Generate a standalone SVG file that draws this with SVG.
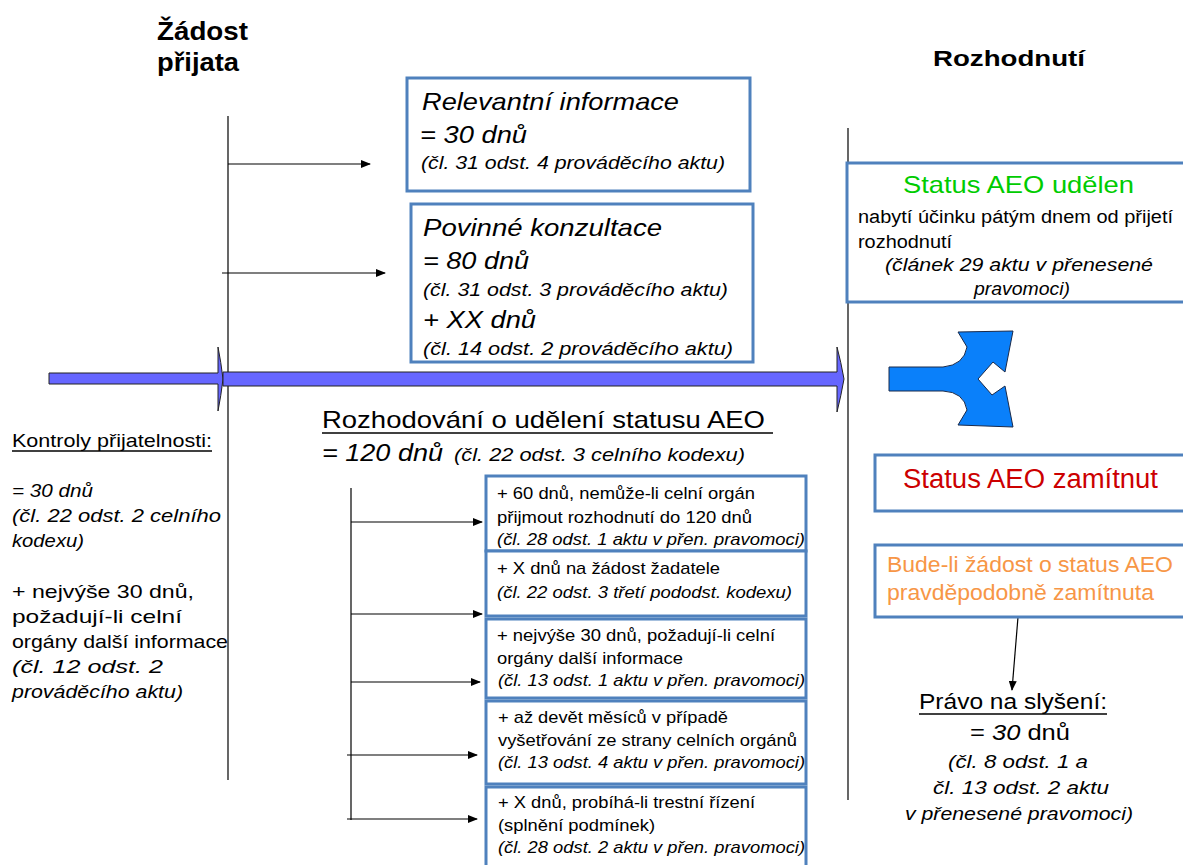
<svg xmlns="http://www.w3.org/2000/svg" width="1183" height="865" viewBox="0 0 1183 865">
<style>
text{font-family:"Liberation Sans",Arial,sans-serif;fill:#000}
.b{font-weight:bold}
.i{font-style:italic}
.box{fill:#fff;stroke:#4F81BD;stroke-width:3}
.ln{stroke:#000;stroke-width:1.2;fill:none}
.ul{stroke:#000;stroke-width:1.3}
</style>
<defs>
<marker id="ah" markerWidth="10" markerHeight="8" refX="9" refY="4" orient="auto" markerUnits="userSpaceOnUse">
<path d="M0,0 L10,4 L0,8 Z" fill="#000"/>
</marker>
</defs>
<rect width="1183" height="865" fill="#fff"/>

<g id="headings">
<text class="b" x="157" y="40" font-size="25" textLength="91" lengthAdjust="spacingAndGlyphs">Žádost</text>
<text class="b" x="157" y="71" font-size="25" textLength="82" lengthAdjust="spacingAndGlyphs">přijata</text>
<text class="b" x="933" y="66" font-size="22" textLength="152" lengthAdjust="spacingAndGlyphs">Rozhodnutí</text>
</g>

<g id="connectors">
<line class="ln" x1="228" y1="116" x2="228" y2="780"/>
<line class="ln" x1="848" y1="128" x2="848" y2="800"/>
<line class="ln" x1="228" y1="164" x2="370" y2="164" marker-end="url(#ah)"/>
<line class="ln" x1="222" y1="273" x2="385" y2="273" marker-end="url(#ah)"/>
<line class="ln" x1="351" y1="488" x2="351" y2="820" stroke="#333"/>
<line class="ln" x1="351" y1="522" x2="482" y2="522" marker-end="url(#ah)"/>
<line class="ln" x1="351" y1="614" x2="482" y2="614" marker-end="url(#ah)"/>
<line class="ln" x1="351" y1="682" x2="480" y2="682" marker-end="url(#ah)"/>
<line class="ln" x1="347" y1="755" x2="477" y2="755" marker-end="url(#ah)"/>
<line class="ln" x1="347" y1="819" x2="477" y2="819" marker-end="url(#ah)"/>
<line class="ln" x1="1018" y1="617" x2="1012" y2="690" marker-end="url(#ah)"/>
</g>

<g id="timeline">
<path d="M49,373 L218,373 L218,347 Q221,362 223,379 Q221,396 218,411 L218,384 L49,384 Z" fill="#6666FF" stroke="#222" stroke-width="1"/>
<path d="M223,372 L837,372 L837,347 Q841,362 844,379 Q841,396 837,412 L837,386 L223,386 Z" fill="#6666FF" stroke="#222" stroke-width="1"/>
</g>

<g id="fork">
<path d="M889,367 L943,367 Q964,365 967,347 L958,332 L1013,331 L1005,372 L993,362 L978,379 L992,395 L1005,386 L1013,427 L958,425 L967,410 Q964,392 943,391 L889,391 Z" fill="#0A80FA" stroke="#1a2a4a" stroke-width="1"/>
</g>

<g id="node-relevantni">
<rect class="box" x="407" y="78" width="343" height="113"/>
<text class="i" x="422" y="110" font-size="24" textLength="257" lengthAdjust="spacingAndGlyphs">Relevantní informace</text>
<text class="i" x="420" y="143" font-size="24" textLength="107" lengthAdjust="spacingAndGlyphs">= 30 dnů</text>
<text class="i" x="421" y="169" font-size="18" textLength="304" lengthAdjust="spacingAndGlyphs">(čl. 31 odst. 4 prováděcího aktu)</text>
</g>

<g id="node-konzultace">
<rect class="box" x="411" y="204" width="342" height="158"/>
<text class="i" x="423" y="236" font-size="24" textLength="239" lengthAdjust="spacingAndGlyphs">Povinné konzultace</text>
<text class="i" x="423" y="269" font-size="24" textLength="106" lengthAdjust="spacingAndGlyphs">= 80 dnů</text>
<text class="i" x="423" y="296" font-size="18" textLength="305" lengthAdjust="spacingAndGlyphs">(čl. 31 odst. 3 prováděcího aktu)</text>
<text class="i" x="423" y="328" font-size="24" textLength="113" lengthAdjust="spacingAndGlyphs">+ XX dnů</text>
<text class="i" x="423" y="355" font-size="18" textLength="310" lengthAdjust="spacingAndGlyphs">(čl. 14 odst. 2  prováděcího aktu)</text>
</g>

<g id="node-kontroly">
<text x="12" y="447" font-size="19" textLength="200" lengthAdjust="spacingAndGlyphs">Kontroly přijatelnosti:</text>
<line class="ul" x1="12" y1="451" x2="212" y2="451"/>
<text class="i" x="12" y="497" font-size="19" textLength="81" lengthAdjust="spacingAndGlyphs">= 30 dnů</text>
<text class="i" x="12" y="522" font-size="19" textLength="209" lengthAdjust="spacingAndGlyphs">(čl. 22 odst. 2 celního</text>
<text class="i" x="12" y="547" font-size="19" textLength="72" lengthAdjust="spacingAndGlyphs">kodexu)</text>
<text x="12" y="598" font-size="19" textLength="182" lengthAdjust="spacingAndGlyphs">+ nejvýše 30 dnů,</text>
<text x="12" y="623" font-size="19" textLength="170" lengthAdjust="spacingAndGlyphs">požadují-li celní</text>
<text x="12" y="648" font-size="19" textLength="216" lengthAdjust="spacingAndGlyphs">orgány další informace</text>
<text class="i" x="12" y="673" font-size="19" textLength="151" lengthAdjust="spacingAndGlyphs">(čl. 12 odst. 2</text>
<text class="i" x="12" y="698" font-size="19" textLength="171" lengthAdjust="spacingAndGlyphs">prováděcího aktu)</text>
</g>

<g id="node-rozhodovani">
<text x="322" y="428" font-size="24" textLength="443" lengthAdjust="spacingAndGlyphs">Rozhodování o udělení statusu AEO</text>
<line class="ul" x1="322" y1="433" x2="773" y2="433"/>
<text class="i" x="322" y="461" font-size="24" textLength="121" lengthAdjust="spacingAndGlyphs">= 120 dnů</text>
<text class="i" x="454" y="461" font-size="18" textLength="291" lengthAdjust="spacingAndGlyphs">(čl. 22  odst. 3 celního kodexu)</text>
</g>

<g id="node-ext1">
<rect class="box" x="486" y="476" width="320" height="75"/>
<text x="497" y="499" font-size="17" textLength="258" lengthAdjust="spacingAndGlyphs">+ 60 dnů, nemůže-li celní orgán</text>
<text x="497" y="523" font-size="17" textLength="255" lengthAdjust="spacingAndGlyphs">přijmout rozhodnutí do 120 dnů</text>
<text class="i" x="497" y="545" font-size="17" textLength="308" lengthAdjust="spacingAndGlyphs">(čl. 28 odst. 1 aktu v přen. pravomoci)</text>
</g>
<g id="node-ext2">
<rect class="box" x="486" y="551" width="320" height="65"/>
<text x="497" y="574" font-size="17" textLength="223" lengthAdjust="spacingAndGlyphs">+ X dnů na žádost žadatele</text>
<text class="i" x="497" y="598" font-size="17" textLength="295" lengthAdjust="spacingAndGlyphs">(čl. 22 odst. 3 třetí pododst. kodexu)</text>
</g>
<g id="node-ext3">
<rect class="box" x="486" y="619" width="320" height="79"/>
<text x="497" y="641" font-size="17" textLength="278" lengthAdjust="spacingAndGlyphs">+ nejvýše 30 dnů, požadují-li celní</text>
<text x="497" y="664" font-size="17" textLength="186" lengthAdjust="spacingAndGlyphs">orgány další informace</text>
<text class="i" x="498" y="686" font-size="17" textLength="307" lengthAdjust="spacingAndGlyphs">(čl. 13 odst. 1 aktu v přen. pravomoci)</text>
</g>
<g id="node-ext4">
<rect class="box" x="486" y="701" width="320" height="83"/>
<text x="498" y="723" font-size="17" textLength="230" lengthAdjust="spacingAndGlyphs">+ až devět měsíců v případě</text>
<text x="498" y="746" font-size="17" textLength="299" lengthAdjust="spacingAndGlyphs">vyšetřování ze strany celních orgánů</text>
<text class="i" x="498" y="768" font-size="17" textLength="307" lengthAdjust="spacingAndGlyphs">(čl. 13 odst. 4 aktu v přen. pravomoci)</text>
</g>
<g id="node-ext5">
<rect class="box" x="486" y="787" width="320" height="82"/>
<text x="498" y="808" font-size="17" textLength="257" lengthAdjust="spacingAndGlyphs">+ X dnů, probíhá-li trestní řízení</text>
<text x="498" y="831" font-size="17" textLength="157" lengthAdjust="spacingAndGlyphs">(splnění podmínek)</text>
<text class="i" x="498" y="853" font-size="17" textLength="307" lengthAdjust="spacingAndGlyphs">(čl. 28 odst. 2 aktu v přen. pravomoci)</text>
</g>

<g id="node-udelen">
<rect class="box" x="847" y="163" width="345" height="139"/>
<text x="903" y="193" font-size="24" style="fill:#00CC00" textLength="231" lengthAdjust="spacingAndGlyphs">Status AEO udělen</text>
<text x="858" y="223" font-size="18" textLength="315" lengthAdjust="spacingAndGlyphs">nabytí účinku pátým dnem od přijetí</text>
<text x="858" y="248" font-size="18" textLength="94" lengthAdjust="spacingAndGlyphs">rozhodnutí</text>
<text class="i" x="885" y="271" font-size="18" textLength="268" lengthAdjust="spacingAndGlyphs">(článek 29 aktu v přenesené</text>
<text class="i" x="974" y="295" font-size="18" textLength="96" lengthAdjust="spacingAndGlyphs">pravomoci)</text>
</g>

<g id="node-zamitnut">
<rect class="box" x="875" y="455" width="320" height="56"/>
<text x="903" y="488" font-size="27" style="fill:#CC0000" textLength="255" lengthAdjust="spacingAndGlyphs">Status AEO zamítnut</text>
</g>

<g id="node-bude">
<rect class="box" x="875" y="545" width="320" height="72"/>
<text x="887" y="572" font-size="22" style="fill:#F79646" textLength="286" lengthAdjust="spacingAndGlyphs">Bude-li žádost o status AEO</text>
<text x="887" y="600" font-size="22" style="fill:#F79646" textLength="267" lengthAdjust="spacingAndGlyphs">pravděpodobně zamítnuta</text>
</g>

<g id="node-pravo">
<text x="919" y="709" font-size="22" textLength="188" lengthAdjust="spacingAndGlyphs">Právo na slyšení:</text>
<line class="ul" x1="919" y1="714" x2="1107" y2="714"/>
<text x="970" y="740" font-size="22" textLength="100" lengthAdjust="spacingAndGlyphs">= <tspan class="i">30</tspan> dnů</text>
<text class="i" x="948" y="768" font-size="18" textLength="140" lengthAdjust="spacingAndGlyphs">(čl. 8  odst. 1 a</text>
<text class="i" x="933" y="794" font-size="18" textLength="176" lengthAdjust="spacingAndGlyphs">čl. 13  odst. 2 aktu</text>
<text class="i" x="905" y="820" font-size="18" textLength="228" lengthAdjust="spacingAndGlyphs">v přenesené pravomoci)</text>
</g>
</svg>
